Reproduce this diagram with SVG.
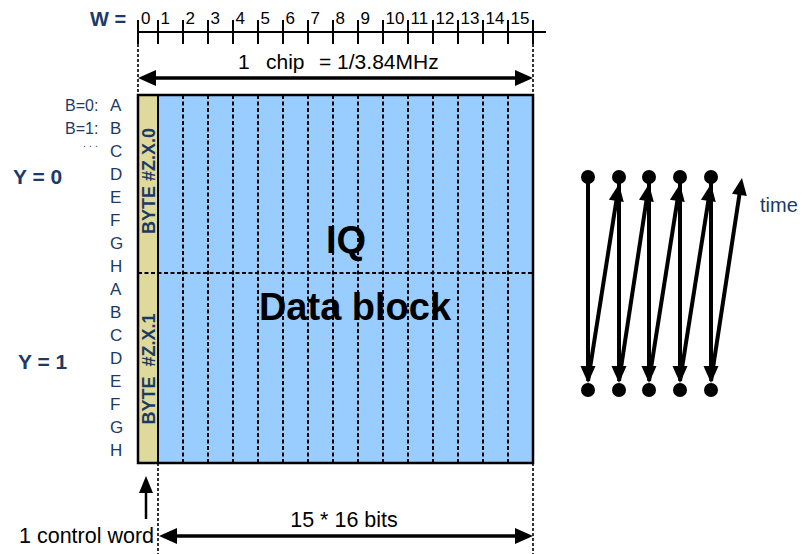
<svg xmlns="http://www.w3.org/2000/svg" width="802" height="554" viewBox="0 0 802 554">
<defs>
<style>
.t{font-family:"Liberation Sans",Arial,sans-serif}
.nv{fill:#1B3A66}
.b{font-weight:bold}
.ln{stroke:#000;stroke-width:2;fill:none}
.dash{stroke:#000;stroke-width:2;stroke-dasharray:4 2.5;fill:none}
.ext{stroke:#000;stroke-width:1.6;stroke-dasharray:3 2;fill:none}
.dim{stroke:#000;stroke-width:3.5;fill:none;marker-start:url(#mdim);marker-end:url(#mdim)}
.zz{stroke:#000;stroke-width:4;fill:none;marker-end:url(#mzz)}
.dot{fill:#000}
</style>
<marker id="mdim" markerUnits="userSpaceOnUse" markerWidth="18" markerHeight="16" refX="13" refY="8" orient="auto-start-reverse" overflow="visible"><path d="M0,0 L18,8 L0,16 z" fill="#000"/></marker>
<marker id="mzz" markerUnits="userSpaceOnUse" markerWidth="17" markerHeight="15" refX="12" refY="7.5" orient="auto" overflow="visible"><path d="M0,0 L17,7.5 L0,15 z" fill="#000"/></marker>
<marker id="mcw" markerUnits="userSpaceOnUse" markerWidth="17" markerHeight="14" refX="13" refY="7" orient="auto" overflow="visible"><path d="M0,0 L17,7 L0,14 z" fill="#000"/></marker>
</defs>
<rect width="802" height="554" fill="#fff"/>

<g id="ruler">
<text class="t nv b" x="90" y="26" font-size="20">W =</text>
<line class="ln" x1="138" y1="32" x2="546" y2="32"/>
<path class="ln" d="M138,20V44M158,20V44M183,20V44M208,20V44M233,20V44M258,20V44M283,20V44M308,20V44M333,20V44M358,20V44M383,20V44M408,20V44M433,20V44M458,20V44M483,20V44M508,20V44M533,20V44"/>
<g class="t" font-size="17" fill="#000">
<text x="141" y="24">0</text><text x="160.5" y="24">1</text><text x="185.5" y="24">2</text><text x="210.5" y="24">3</text>
<text x="235.5" y="24">4</text><text x="260.5" y="24">5</text><text x="285.5" y="24">6</text><text x="310.5" y="24">7</text>
<text x="335.5" y="24">8</text><text x="360.5" y="24">9</text><text x="385.5" y="24">10</text><text x="410.5" y="24">11</text>
<text x="435.5" y="24">12</text><text x="460.5" y="24">13</text><text x="485.5" y="24">14</text><text x="510.5" y="24">15</text>
</g>
</g>

<g id="extension-lines">
<path class="ext" d="M138,44V95M533,44V95M158,463V554M533,463V554"/>
</g>

<g id="data-block">
<rect x="138" y="95" width="20" height="368" fill="#DDDA9B"/>
<rect x="158" y="95" width="375" height="368" fill="#99CCFF"/>
<path class="dash" d="M183,95V463M208,95V463M233,95V463M258,95V463M283,95V463M308,95V463M333,95V463M358,95V463M383,95V463M408,95V463M433,95V463M458,95V463M483,95V463M508,95V463"/>
<line class="dash" x1="138" y1="273" x2="533" y2="273"/>
<line class="ln" x1="158" y1="95" x2="158" y2="463"/>
<rect x="138" y="95" width="395" height="368" fill="none" stroke="#000" stroke-width="2.5"/>
<text class="t b" x="346" y="253" font-size="38" text-anchor="middle" fill="#000">IQ</text>
<text class="t b" x="355" y="320" font-size="38" text-anchor="middle" fill="#000">Data block</text>
</g>

<g id="byte0">
<text class="t nv b" font-size="18" text-anchor="middle" transform="translate(155,181) rotate(-90)">BYTE #Z.X.0</text>
</g>
<g id="byte1">
<text class="t nv b" font-size="18" text-anchor="middle" transform="translate(155,369) rotate(-90)" style="white-space:pre">BYTE  #Z.X.1</text>
</g>

<g id="bit-labels" class="t nv" font-size="17">
<text x="65" y="111" font-size="16">B=0:</text>
<text x="65" y="134" font-size="16">B=1:</text>
<text x="83" y="147" font-size="10" letter-spacing="3.2">...</text>
<text x="110" y="111">A</text><text x="110" y="134">B</text><text x="110" y="157">C</text><text x="110" y="180">D</text>
<text x="110" y="203">E</text><text x="110" y="226">F</text><text x="110" y="249">G</text><text x="110" y="272">H</text>
<text x="110" y="295">A</text><text x="110" y="318">B</text><text x="110" y="341">C</text><text x="110" y="364">D</text>
<text x="110" y="387">E</text><text x="110" y="410">F</text><text x="110" y="433">G</text><text x="110" y="456">H</text>
</g>

<g id="y-labels" class="t nv b" font-size="21">
<text x="13" y="184">Y = 0</text>
<text x="18" y="369">Y = 1</text>
</g>

<g id="dim-labels" class="t" font-size="21" fill="#000">
<text x="238" y="69">1</text>
<text x="266" y="69">chip</text>
<text x="319" y="69">= 1/3.84MHz</text>
<text x="344" y="527" font-size="21.5" text-anchor="middle">15 * 16 bits</text>
<text x="19" y="543" font-size="21.5">1 control word</text>
</g>

<g id="zigzag-dots">
<circle class="dot" cx="588" cy="177" r="7"/><circle class="dot" cx="619" cy="177" r="7"/><circle class="dot" cx="649" cy="177" r="7"/><circle class="dot" cx="680" cy="177" r="7"/><circle class="dot" cx="711" cy="177" r="7"/>
<circle class="dot" cx="588" cy="390" r="7"/><circle class="dot" cx="619" cy="390" r="7"/><circle class="dot" cx="649" cy="390" r="7"/><circle class="dot" cx="680" cy="390" r="7"/><circle class="dot" cx="711" cy="390" r="7"/>
<text class="t nv" x="760" y="212" font-size="20">time</text>
</g>

<g id="connectors">
<line class="dim" x1="143" y1="78" x2="528" y2="78"/>
<line class="dim" x1="164" y1="536" x2="528" y2="536"/>
<line x1="146" y1="519" x2="146" y2="480" stroke="#000" stroke-width="2.5" marker-end="url(#mcw)"/>
<line class="zz" x1="588" y1="177" x2="588" y2="378"/>
<line class="zz" x1="619" y1="177" x2="619" y2="378"/>
<line class="zz" x1="649" y1="177" x2="649" y2="378"/>
<line class="zz" x1="680" y1="177" x2="680" y2="378"/>
<line class="zz" x1="711" y1="177" x2="711" y2="378"/>
<line class="zz" x1="588" y1="381" x2="618.2" y2="189"/>
<line class="zz" x1="619" y1="381" x2="648.2" y2="189"/>
<line class="zz" x1="649" y1="381" x2="679.2" y2="189"/>
<line class="zz" x1="680" y1="381" x2="710.2" y2="189"/>
<line class="zz" x1="711" y1="381" x2="741.2" y2="183"/>
</g>
</svg>
